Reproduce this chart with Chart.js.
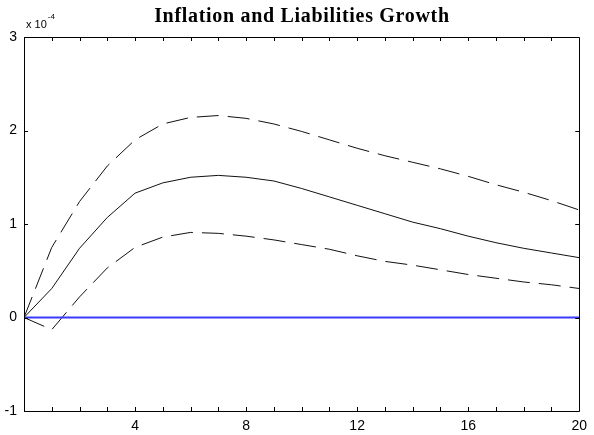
<!DOCTYPE html>
<html>
<head>
<meta charset="utf-8">
<script src="https://cdn.jsdelivr.net/npm/chart.js@4"></script>
<style>
html,body{margin:0;padding:0;background:#fff;}
#wrap{width:594px;height:435px;}
</style>
</head>
<body>
<div id="wrap"><canvas id="c" width="594" height="435"></canvas></div>
<script>
const titleText = "Inflation and Liabilities Growth";
const horizons = [0,1,2,3,4,5,6,7,8,9,10,11,12,13,14,15,16,17,18,19,20];
const median = [0, 0.31, 0.74, 1.07, 1.33, 1.44, 1.50, 1.52, 1.50, 1.46, 1.38, 1.29, 1.20, 1.11, 1.02, 0.95, 0.87, 0.80, 0.74, 0.69, 0.64];
const upper  = [0, 0.75, 1.24, 1.62, 1.90, 2.07, 2.14, 2.16, 2.13, 2.07, 1.99, 1.90, 1.81, 1.73, 1.66, 1.59, 1.51, 1.42, 1.34, 1.25, 1.15];
const lower  = [0, -0.13, 0.22, 0.53, 0.75, 0.86, 0.91, 0.90, 0.87, 0.83, 0.78, 0.73, 0.66, 0.60, 0.56, 0.51, 0.46, 0.42, 0.38, 0.35, 0.31];
const zeroLine = [0, 0];
const zeroX = [0, 20];
const xTickLabels = [4, 8, 12, 16, 20];
const yTickValues = [-1, 0, 1, 2, 3];
const exponentBase = "x 10";
const exponentPower = "-4";

const pts = (xs, ys) => xs.map((x, i) => ({x: x, y: ys[i]}));

const framePlugin = {
  id: 'frame',
  afterDraw(chart) {
    const ctx = chart.ctx;
    const a = chart.chartArea;
    const xs = chart.scales.x, ys = chart.scales.y;
    ctx.save();
    ctx.strokeStyle = '#000';
    ctx.lineWidth = 1;
    ctx.beginPath();
    ctx.rect(Math.round(a.left) + 0.5, Math.round(a.top) + 0.5, Math.round(a.right - a.left), Math.round(a.bottom - a.top));
    ctx.stroke();
    const tl = 4;
    ctx.beginPath();
    for (let v = 1; v < 20; v++) {
      const px = Math.round(xs.getPixelForValue(v)) + 0.5;
      ctx.moveTo(px, a.bottom); ctx.lineTo(px, a.bottom - tl);
      ctx.moveTo(px, a.top); ctx.lineTo(px, a.top + tl);
    }
    yTickValues.forEach(v => {
      const py = Math.round(ys.getPixelForValue(v)) + 0.5;
      ctx.moveTo(a.left, py); ctx.lineTo(a.left + tl, py);
      ctx.moveTo(a.right, py); ctx.lineTo(a.right - tl, py);
    });
    ctx.stroke();
    // title
    ctx.fillStyle = '#000';
    ctx.font = 'bold 20px "Liberation Serif", "Times New Roman", serif';
    ctx.textAlign = 'left';
    ctx.textBaseline = 'alphabetic';
    const target = 295;
    const w0 = ctx.measureText(titleText).width;
    const sp = Math.max(0, (target - w0) / (titleText.length - 1));
    ctx.letterSpacing = sp.toFixed(2) + 'px';
    const w1 = ctx.measureText(titleText).width - sp;
    ctx.fillText(titleText, (a.left + a.right) / 2 - w1 / 2, 22);
    ctx.letterSpacing = '0px';
    // exponent
    ctx.font = '11px "Liberation Sans", Arial, sans-serif';
    ctx.fillText(exponentBase, a.left + 2, 28);
    const w = ctx.measureText(exponentBase).width;
    ctx.font = '8px "Liberation Sans", Arial, sans-serif';
    ctx.fillText(exponentPower, a.left + 3 + w, 19);
    ctx.restore();
  }
};

new Chart(document.getElementById('c'), {
  type: 'line',
  data: {
    datasets: [
      { data: pts(zeroX, zeroLine), borderColor: '#3a3aff', backgroundColor: '#3a3aff', borderWidth: 2, pointRadius: 0, tension: 0, fill: false },
      { data: pts(horizons, median), borderColor: '#111', borderWidth: 1, pointRadius: 0, tension: 0, fill: false },
      { data: pts(horizons, upper), borderColor: '#111', borderWidth: 1, borderDash: [22, 9], pointRadius: 0, tension: 0, fill: false },
      { data: pts(horizons, lower), borderColor: '#111', borderWidth: 1, borderDash: [22, 9], pointRadius: 0, tension: 0, fill: false }
    ]
  },
  options: {
    responsive: false,
    animation: false,
    events: [],
    layout: { padding: { top: 37, right: 11, left: 0, bottom: 0 } },
    plugins: { legend: { display: false }, tooltip: { enabled: false }, title: { display: false } },
    scales: {
      x: {
        type: 'linear', min: 0, max: 20,
        grid: { display: false, drawTicks: false },
        border: { display: false },
        afterBuildTicks: (s) => { s.ticks = xTickLabels.map(v => ({value: v})); },
        ticks: {
          color: '#000', padding: 7, maxRotation: 0, autoSkip: false,
          font: { family: '"Liberation Sans", Arial, sans-serif', size: 14 },
          callback: (v) => String(v)
        },
        afterFit: (s) => { s.height = 24; }
      },
      y: {
        type: 'linear', min: -1, max: 3,
        grid: { display: false, drawTicks: false },
        border: { display: false },
        afterBuildTicks: (s) => { s.ticks = yTickValues.map(v => ({value: v})); },
        ticks: {
          color: '#000', padding: 7, autoSkip: false,
          font: { family: '"Liberation Sans", Arial, sans-serif', size: 14 },
          callback: (v) => String(v)
        },
        afterFit: (s) => { s.width = 24; }
      }
    }
  },
  plugins: [framePlugin]
});
</script>
</body>
</html>
